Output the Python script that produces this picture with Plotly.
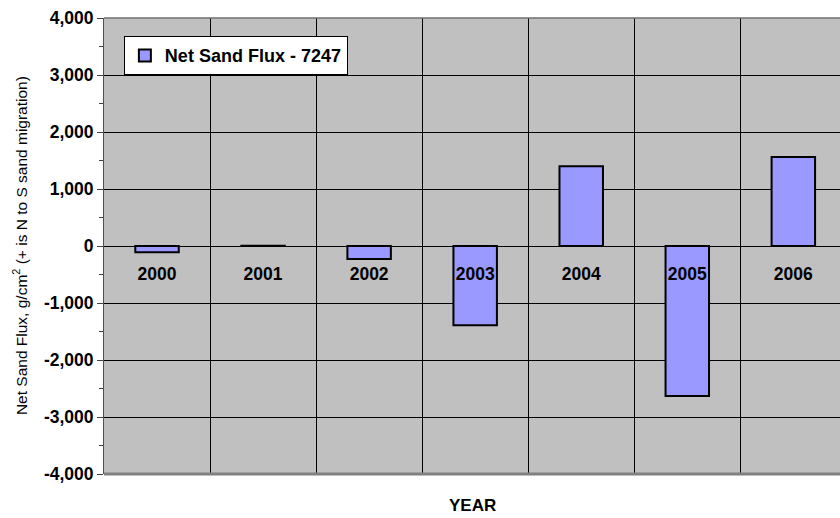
import plotly.graph_objects as go

years = ["2000", "2001", "2002", "2003", "2004", "2005", "2006"]
net_flux = [-110, 5, -230, -1390, 1400, -2630, 1560]
series_name = "Net Sand Flux - 7247"
y_ticks = [-4000, -3000, -2000, -1000, 0, 1000, 2000, 3000, 4000]
y_tick_labels = ["-4,000", "-3,000", "-2,000", "-1,000", "0", "1,000", "2,000", "3,000", "4,000"]

FONT = "Liberation Sans, Arial, sans-serif"

fig = go.Figure()
fig.add_trace(go.Bar(
    x=years, y=net_flux, name=series_name,
    marker=dict(color="#9999FF", line=dict(color="black", width=2)),
    width=0.41, showlegend=True,
))

fig.update_layout(
    width=840, height=518,
    margin=dict(l=104, r=0, t=18, b=44),
    paper_bgcolor="white", plot_bgcolor="#C0C0C0",
    font=dict(family=FONT, color="black"),
    showlegend=True,
    legend=dict(
        x=0.027, y=0.96, xanchor="left", yanchor="top",
        bgcolor="white", bordercolor="black", borderwidth=1,
        font=dict(family=FONT, size=18, weight="bold", color="black"),
        itemwidth=30, tracegroupgap=0,
    ),
    xaxis=dict(
        type="category", range=[-0.5, 6.44],
        anchor="free", position=0.5,
        tickson="boundaries", showgrid=True, gridcolor="black", gridwidth=1,
        ticks="", showline=False, zeroline=False,
        ticklabelstandoff=15,
        tickfont=dict(family=FONT, size=17.5, weight="bold", color="black"),
        layer="above traces",
    ),
    yaxis=dict(
        range=[-4000, 4000], domain=[0, 1],
        tickvals=y_ticks, ticktext=y_tick_labels,
        showgrid=True, gridcolor="black", gridwidth=1,
        zeroline=True, zerolinecolor="black", zerolinewidth=1,
        showline=True, linecolor="#505050", linewidth=1,
        ticks="outside", ticklen=6, tickcolor="#404040",
        minor=dict(dtick=500, ticks="outside", ticklen=4, tickcolor="#404040", showgrid=False),
        tickfont=dict(family=FONT, size=17.5, weight="bold", color="black"),
    ),
    bargap=0.59,
)

fig.add_shape(type="line", xref="paper", yref="paper", x0=0, x1=1, y0=0, y1=0,
              line=dict(color="#808080", width=3))
fig.add_shape(type="line", xref="paper", yref="paper", x0=0, x1=1, y0=1, y1=1,
              line=dict(color="#707070", width=1.5))

fig.add_annotation(text="YEAR", xref="paper", yref="paper", x=0.5, y=-0.068,
                   xanchor="center", yanchor="middle", showarrow=False,
                   font=dict(family=FONT, size=17, weight="bold", color="black"))
fig.add_annotation(text="Net Sand Flux, g/cm<sup>2</sup> (+ is N to S sand migration)",
                   xref="paper", yref="paper", x=-0.114, y=0.5, textangle=-90,
                   xanchor="center", yanchor="middle", showarrow=False,
                   font=dict(family=FONT, size=15.5, color="black"))

fig.write_html(
    "out.html",
    config={"displayModeBar": False},
    post_script="document.body.style.margin='0';document.body.style.overflow='hidden';",
)
